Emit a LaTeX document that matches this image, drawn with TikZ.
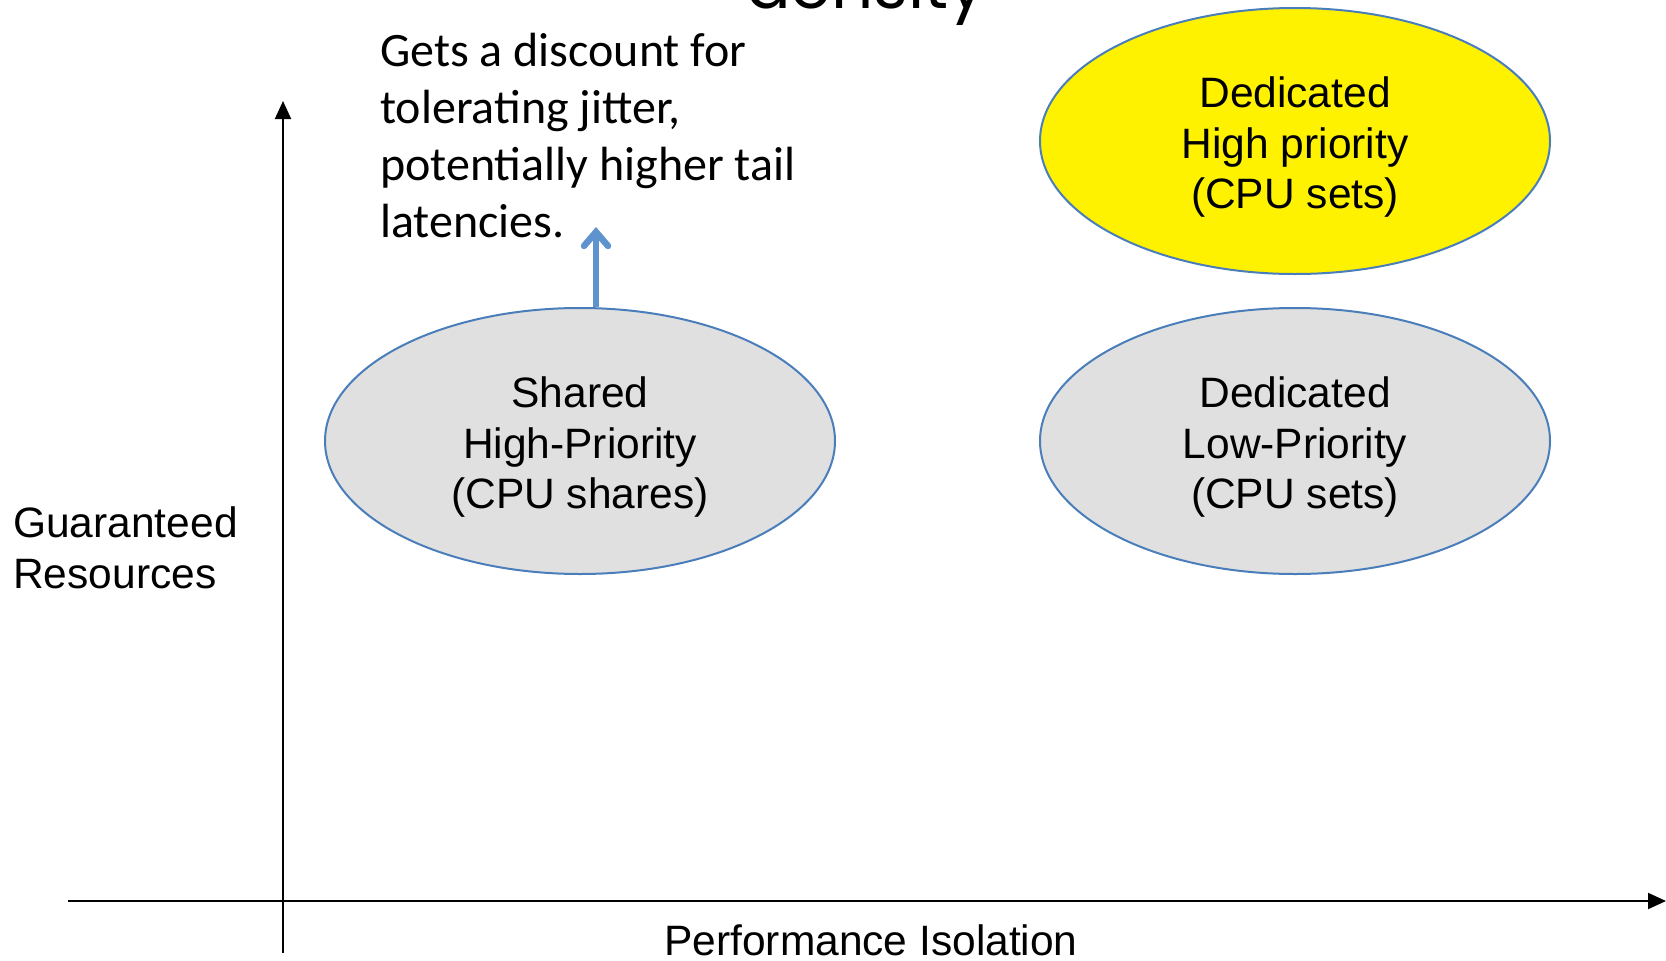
\documentclass[tikz,border=0pt]{standalone}
\usepackage{fontspec}
\setmainfont{Liberation Sans}
\newfontfamily\calloutfont{Carlito}
\newfontfamily\titlefont{Poppins}
\usetikzlibrary{shapes.geometric,arrows.meta}
\definecolor{outlineblue}{HTML}{4A7EBB}
\definecolor{arrowblue}{HTML}{5F93CD}
\definecolor{bubblegray}{HTML}{E0E0E0}
\tikzset{
  bubble/.style={ellipse, draw=outlineblue, line width=2pt, minimum width=510pt,
    minimum height=266pt, inner sep=0pt},
  bubbletext/.style={inner sep=0pt, align=center,
    font=\fontsize{42.5}{50.5}\selectfont},
  axis/.style={line width=2pt, -{Triangle[length=18pt,width=16pt]}},
  label/.style={inner sep=0pt, font=\fontsize{42.5}{51}\selectfont},
}
\begin{document}
\begin{tikzpicture}[x=1pt,y=-1pt]
  \useasboundingbox (0,0) rectangle (1666,961);
  \clip (0,0) rectangle (1666,961);
  % title, mostly above the page
  \node[anchor=base, inner sep=0pt, font=\titlefont\fontsize{66}{70}\selectfont] (title) at (866,9) {density};
  % axes
  \coordinate (yfoot) at (283,953);
  \coordinate (ytop) at (283,101);
  \coordinate (xleft) at (68,901);
  \coordinate (xright) at (1666,901);
  \draw[axis] (yfoot) -- (ytop);
  \draw[axis] (xleft) -- (xright);
  \node[label, anchor=base] (xlab) at (871,955) {Performance Isolation};
  \node[label, anchor=north west, align=left] (ylab) at (13,506) {Guaranteed\\Resources};
  % bubbles
  \node[bubble, fill=bubblegray] (shared) at (580,441) {};
  \node[bubble, fill=bubblegray] (dlow) at (1295,441) {};
  \node[bubble, fill=yellow] (dhigh) at (1295,141) {};
  \node[bubbletext] (sharedtext) at ([yshift=-6pt]shared.center) {Shared\\High-Priority\\(CPU shares)};
  \node[bubbletext] (dlowtext) at ([yshift=-6pt]dlow.center) {Dedicated\\Low-Priority\\(CPU sets)};
  \node[bubbletext] (dhightext) at ([yshift=-6pt]dhigh.center) {Dedicated\\High priority\\(CPU sets)};
  % callout
  \node[anchor=north west, inner sep=0pt, align=left,
        font=\calloutfont\fontsize{48}{57}\selectfont] (note) at (380,33)
        {Gets a discount for\\tolerating jitter,\\potentially higher tail\\latencies.};
  \coordinate (notefoot) at (596,227);
  \draw[arrowblue, line width=6.5pt, -{Straight Barb[length=14pt,width=24pt,line cap=round]}]
    (shared.north -| notefoot) -- (notefoot);
\end{tikzpicture}
\end{document}
